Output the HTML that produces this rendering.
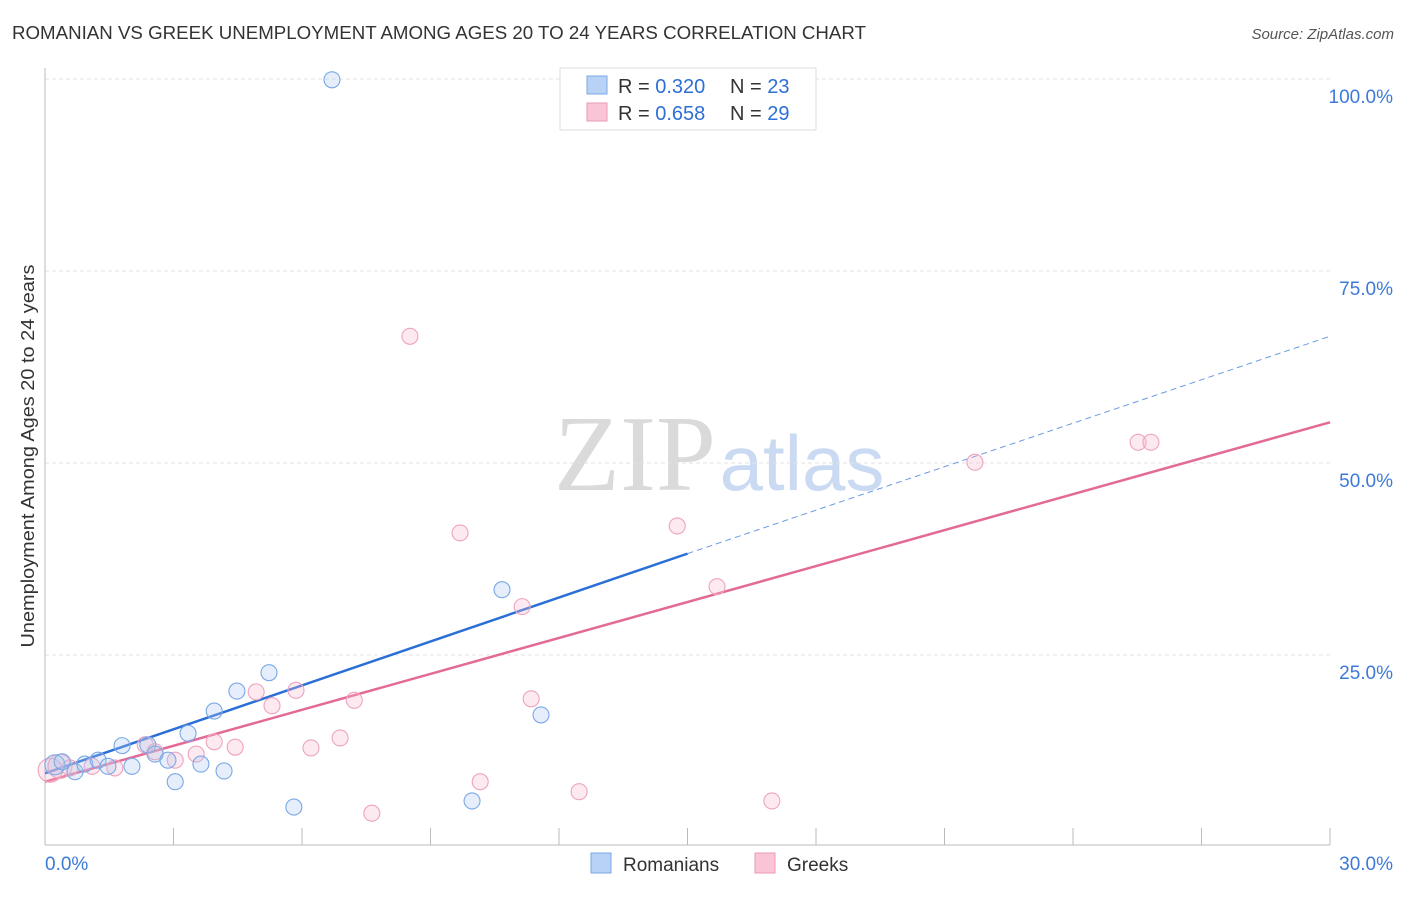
<!DOCTYPE html>
<html><head><meta charset="utf-8"><style>
body{margin:0;background:#fff;font-family:"Liberation Sans",sans-serif}
</style></head><body>
<svg id="c" width="1406" height="892" xmlns="http://www.w3.org/2000/svg">
<text x="12" y="39" font-size="18" fill="#333" textLength="854" lengthAdjust="spacingAndGlyphs">ROMANIAN VS GREEK UNEMPLOYMENT AMONG AGES 20 TO 24 YEARS CORRELATION CHART</text>
<text x="1394" y="39" font-size="15" fill="#555" font-style="italic" text-anchor="end">Source: ZipAtlas.com</text>
<text x="0" y="0" transform="translate(34,456) rotate(-90)" font-size="18" fill="#333" text-anchor="middle" textLength="383" lengthAdjust="spacingAndGlyphs">Unemployment Among Ages 20 to 24 years</text>
<g>
<text x="635" y="490" font-size="108" font-family="Liberation Serif,serif" fill="#dadada" text-anchor="middle">ZIP</text>
<text x="802" y="490" font-size="78" fill="#c9daf2" text-anchor="middle">atlas</text>
</g>
<g id="grid"></g><g id="axes"></g><g id="lines"></g><g id="pts"></g>
<g>
<rect x="560" y="68" width="256" height="62" fill="#fff" stroke="#ddd"/>
<rect x="587" y="76" width="20" height="18" fill="#b7d2f5" stroke="#7aa8e6"/>
<rect x="587" y="103" width="20" height="18" fill="#f9c5d6" stroke="#ec9ab8"/>
<text x="618" y="93" font-size="20" fill="#333">R = <tspan fill="#2d6fd3">0.320</tspan></text>
<text x="730" y="93" font-size="20" fill="#333">N = <tspan fill="#2d6fd3">23</tspan></text>
<text x="618" y="120" font-size="20" fill="#333">R = <tspan fill="#2d6fd3">0.658</tspan></text>
<text x="730" y="120" font-size="20" fill="#333">N = <tspan fill="#2d6fd3">29</tspan></text>
</g>
<g>
<rect x="591" y="853" width="20" height="20" fill="#b7d2f5" stroke="#7aa8e6"/>
<text x="623" y="871" font-size="19" fill="#333">Romanians</text>
<rect x="755" y="853" width="20" height="20" fill="#f9c5d6" stroke="#ec9ab8"/>
<text x="787" y="871" font-size="19" fill="#333">Greeks</text>
</g>
</svg>
<script>
const yTicks=[25,50,75,100];
const yTickLabels=["25.0%","50.0%","75.0%","100.0%"];
const xTicks=[3,6,9,12,15,18,21,24,27,30];
const blueX=[6.70,0.23,0.40,0.70,0.93,1.24,1.47,1.80,2.03,2.40,2.57,2.87,3.04,3.34,3.64,3.95,4.18,4.48,5.23,5.81,9.97,10.67,11.58];
const blueY=[99.9,10.7,11.1,9.8,10.8,11.3,10.5,13.2,10.5,13.3,12.1,11.3,8.5,14.8,10.8,17.7,9.9,20.3,22.7,5.2,6.0,33.5,17.2];
const pinkX=[0.12,0.35,0.58,1.10,1.63,2.34,2.57,3.04,3.53,3.95,4.44,4.93,5.30,5.86,6.21,6.89,7.22,7.63,8.52,9.69,10.16,11.14,11.35,12.47,14.76,15.69,16.97,21.71,25.52,25.82];
const pinkY=[10.0,10.5,10.3,10.5,10.3,13.3,12.4,11.3,12.1,13.7,13.0,20.2,18.4,20.4,12.9,14.2,19.1,4.4,66.5,40.9,8.5,31.3,19.3,7.2,41.8,33.9,6.0,50.1,52.7,52.7];
const blueFit=[9.6,38.2,66.5]; // at x=0, 15, 30
const pinkFit=[8.5,55.3]; // at x=0, 30
const NS="http://www.w3.org/2000/svg";
const X=v=>45+v/30*1285, Y=v=>847-v/25*192;
function mk(p,t,a){const e=document.createElementNS(NS,t);for(const k in a)e.setAttribute(k,a[k]);document.getElementById(p).appendChild(e);return e;}
yTicks.forEach((t,i)=>{
 const l=mk('grid','line',{x1:45,x2:1330,y1:Y(t),y2:Y(t),stroke:'#e2e2e2','stroke-dasharray':'4,3'});
 
 
 const tx=mk('grid','text',{x:1393,y:Y(t)+24,'font-size':19,fill:'#3d7ad8','text-anchor':'end'});
 tx.textContent=yTickLabels[i];
 
 
});
const ax=mk('axes','line',{x1:45,x2:1330,y1:845,y2:845,stroke:'#bbb'});


const ay=mk('axes','line',{x1:45,x2:45,y1:68,y2:845,stroke:'#bbb'});


xTicks.forEach(t=>{const l=mk('axes','line',{x1:X(t),x2:X(t),y1:828,y2:845,stroke:'#bbb'});
 
 });
const x0=mk('axes','text',{x:45,y:870,'font-size':19,fill:'#3d7ad8'});x0.textContent='0.0%';


const x1=mk('axes','text',{x:1393,y:870,'font-size':19,fill:'#3d7ad8','text-anchor':'end'});x1.textContent='30.0%';


const bl=mk('lines','line',{x1:X(0),y1:Y(blueFit[0]),x2:X(15),y2:Y(blueFit[1]),stroke:'#2a6fd6','stroke-width':2.5});


const bd=mk('lines','line',{x1:X(15),y1:Y(blueFit[1]),x2:X(30),y2:Y(blueFit[2]),stroke:'#6a9be0','stroke-width':1,'stroke-dasharray':'6,4'});


const pl=mk('lines','line',{x1:X(0),y1:Y(pinkFit[0]),x2:X(30),y2:Y(pinkFit[1]),stroke:'#e36a96','stroke-width':2.5});


pinkX.forEach((v,i)=>{const c=mk('pts','circle',{cx:X(v),cy:Y(pinkY[i]),r:i<2?12:8,fill:'rgba(247,184,204,0.3)',stroke:'#eea3bf','stroke-width':1.1});
 
 });
blueX.forEach((v,i)=>{const c=mk('pts','circle',{cx:X(v),cy:Y(blueY[i]),r:i==1?10:8,fill:'rgba(168,200,240,0.3)',stroke:'#7aa8e6','stroke-width':1.1});
 
 });
</script>
</body></html>
